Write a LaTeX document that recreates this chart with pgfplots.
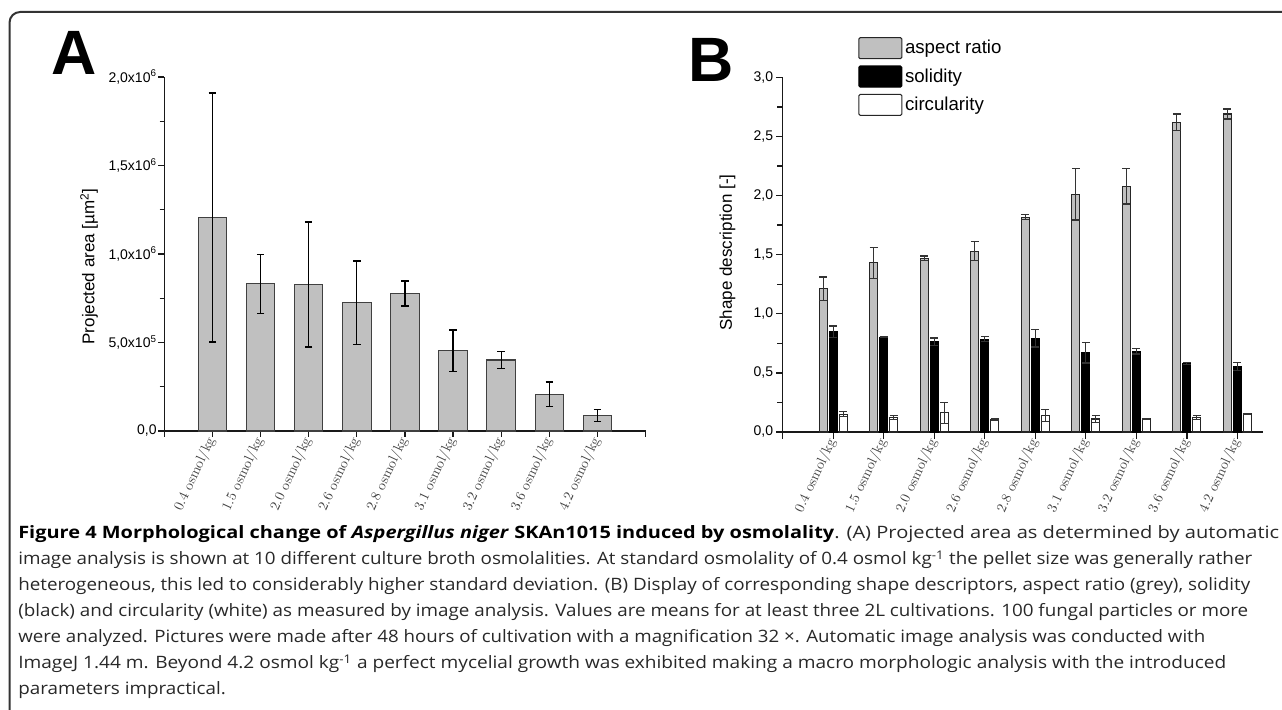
\documentclass[border=0pt]{standalone}
\usepackage{fontspec}
\usepackage{graphicx}
\usepackage{pgfplots}
\pgfplotsset{compat=1.18}
\usepackage{pgfplotstable}
\newfontfamily\arialfont{Liberation Sans}
\newfontfamily\capfont{Open Sans}
\definecolor{barg}{RGB}{192,192,192}
\definecolor{axc}{RGB}{25,25,25}
\definecolor{capc}{RGB}{40,40,40}
\newcommand\capsize{\capfont\fontsize{12.8}{14}\selectfont}
\newlength\capw
% measure text #2 and store factor to reach width #3 (px) in macro #1
\newcommand\capfactor[3]{%
  \settowidth\capw{\capsize #2}%
  \pgfmathsetmacro#1{(#3)*0.75/\capw}%
}
\newcommand\LaBold{\textbf{\color{black}Figure 4 Morphological change of \textit{Aspergillus niger} SKAn1015 induced by osmolality}}
\newcommand\LaReg{. (A) Projected area as determined by automatic}
\newcommand\Lb{image analysis is shown at 10 different culture broth osmolalities. At standard osmolality of 0.4 osmol kg\textsuperscript{-1} the pellet size was generally rather}
\newcommand\Lc{heterogeneous, this led to considerably higher standard deviation. (B) Display of corresponding shape descriptors, aspect ratio (grey), solidity}
\newcommand\Ld{(black) and circularity (white) as measured by image analysis. Values are means for at least three 2L cultivations. 100 fungal particles or more}
\newcommand\Le{were analyzed. Pictures were made after 48 hours of cultivation with a magnification 32 ×. Automatic image analysis was conducted with}
\newcommand\Lf{ImageJ 1.44 m. Beyond 4.2 osmol kg\textsuperscript{-1} a perfect mycelial growth was exhibited making a macro morphologic analysis with the introduced}
\newcommand\Lg{parameters impractical.}

\pgfplotstableread{
x y e
1 1206000 703000
2 832000 167000
3 828000 353000
4 724000 237000
5 777000 70000
6 453000 118000
7 401000 48000
8 207000 70000
9 87000 34000
}\tableA

\pgfplotstableread{
x ar are so soe ci cie
1 1.211 0.100 0.847 0.050 0.150 0.020
2 1.431 0.130 0.802 0.005 0.123 0.017
3 1.469 0.020 0.765 0.030 0.161 0.088
4 1.530 0.080 0.785 0.020 0.105 0.005
5 1.817 0.020 0.793 0.074 0.141 0.051
6 2.011 0.218 0.670 0.087 0.110 0.031
7 2.078 0.150 0.682 0.022 0.112 0.005
8 2.619 0.070 0.580 0.007 0.123 0.018
9 2.690 0.042 0.557 0.034 0.154 0.005
}\tableB

\begin{document}
\capfactor\sxAb{\LaBold}{816}%
\capfactor\sxAr{\LaReg}{445}%
\capfactor\sxB{\Lb}{1234}%
\capfactor\sxC{\Lc}{1232}%
\capfactor\sxD{\Ld}{1230}%
\capfactor\sxE{\Le}{1187}%
\capfactor\sxF{\Lf}{1208}%
\begin{tikzpicture}[x=0.75pt,y=0.75pt]
\useasboundingbox (0,0) rectangle (1282,710);
\clip (0,0) rectangle (1282,710);
\draw[line width=1.5pt, color=black!80, rounded corners=8pt] (9.5,-30) rectangle (1320,698);

\node[anchor=base west, inner sep=0pt, font=\arialfont\bfseries\fontsize{47}{47}\selectfont] at (51,635) {A};
\node[anchor=base west, inner sep=0pt, font=\arialfont\bfseries\fontsize{47}{47}\selectfont] at (688.5,628) {B};

% Panel A
\begin{axis}[
  at={(123.2pt,209.25pt)}, anchor=south west,
  scale only axis, width=361pt, height=265.5pt,
  xmin=0, xmax=10, ymin=0, ymax=2000000,
  axis x line*=bottom, axis y line*=left,
  axis line style={line width=1pt, color=axc},
  tick align=outside, major tick length=4.5pt, minor tick length=3.5pt,
  every tick/.style={line width=1pt, color=axc},
  xtick={0,...,10},
  xticklabels={,0.4 osmol/kg,1.5 osmol/kg,2.0 osmol/kg,2.6 osmol/kg,2.8 osmol/kg,3.1 osmol/kg,3.2 osmol/kg,3.6 osmol/kg,4.2 osmol/kg,},
  xticklabel style={rotate=65, anchor=east, font=\fontsize{10.5}{11}\selectfont, color=black!75, inner sep=1pt},
  scaled y ticks=false,
  ytick={0,500000,1000000,1500000,2000000},
  yticklabels={{0,0},{5,0x10\textsuperscript{5}},{1,0x10\textsuperscript{6}},{1,5x10\textsuperscript{6}},{2,0x10\textsuperscript{6}}},
  minor ytick={250000,750000,1250000,1750000},
  yticklabel style={font=\arialfont\fontsize{10.5}{12}\selectfont, inner sep=1pt},
  ylabel={Projected area [µm\textsuperscript{2}]},
  ylabel style={font=\arialfont\fontsize{12.75}{14}\selectfont, at={(axis description cs:-0.156,0.465)}, anchor=center},
  ybar, bar width=21.4pt,
  clip=false,
]
\addplot[ybar, fill=barg, draw=black!75, line width=0.8pt,
  error bars/.cd, y dir=both, y explicit,
  error bar style={line width=1pt, color=black},
  error mark options={rotate=90, mark size=2.8pt, line width=1pt, color=black}]
  table[x=x, y=y, y error=e] {\tableA};
\end{axis}

% Panel B
\begin{axis}[
  at={(587pt,208.5pt)}, anchor=south west,
  scale only axis, width=360pt, height=266pt,
  xmin=0, xmax=9.5, ymin=0, ymax=3,
  axis x line*=bottom, axis y line*=left,
  axis line style={line width=1pt, color=axc},
  tick align=outside, major tick length=5pt, minor tick length=4pt,
  every tick/.style={line width=1pt, color=axc},
  xtick={0,...,9},
  xticklabels={,0.4 osmol/kg,1.5 osmol/kg,2.0 osmol/kg,2.6 osmol/kg,2.8 osmol/kg,3.1 osmol/kg,3.2 osmol/kg,3.6 osmol/kg,4.2 osmol/kg},
  xticklabel style={rotate=65, anchor=east, font=\fontsize{10.5}{11}\selectfont, color=black!75, inner sep=1pt},
  ytick={0,0.5,1,1.5,2,2.5,3},
  yticklabels={{0,0},{0,5},{1,0},{1,5},{2,0},{2,5},{3,0}},
  minor ytick={0.25,0.75,1.25,1.75,2.25,2.75},
  yticklabel style={font=\arialfont\fontsize{10.5}{12}\selectfont, inner sep=2pt},
  ylabel={Shape description [-]},
  ylabel style={font=\arialfont\fontsize{12.75}{14}\selectfont, at={(axis description cs:-0.115,0.506)}, anchor=center},
  ybar=1.5pt, bar width=6pt,
  clip=false,
  legend style={at={(axis description cs:0.157,1.114)}, anchor=north west, draw=none, fill=none,
    inner sep=0pt, row sep=4.7pt, font=\arialfont\fontsize{14}{16}\selectfont},
  legend cell align=left,
  legend image code/.code={\draw[#1, line width=0.8pt, rounded corners=1pt] (0pt,-7.875pt) rectangle (32.25pt,7.875pt);},
]
\addplot[fill=barg, draw=black!85, line width=0.8pt,
  error bars/.cd, y dir=both, y explicit,
  error bar style={line width=0.9pt, color=black!80},
  error mark options={rotate=90, mark size=3pt, line width=0.9pt, color=black!80}]
  table[x=x, y=ar, y error=are] {\tableB};
\addlegendentry{aspect ratio}
\addplot[fill=black, draw=black, line width=0.8pt,
  error bars/.cd, y dir=both, y explicit,
  error bar style={line width=0.9pt, color=black!80},
  error mark options={rotate=90, mark size=3pt, line width=0.9pt, color=black!80}]
  table[x=x, y=so, y error=soe] {\tableB};
\addlegendentry{solidity}
\addplot[fill=white, draw=black!85, line width=0.8pt,
  error bars/.cd, y dir=both, y explicit,
  error bar style={line width=0.9pt, color=black!80},
  error mark options={rotate=90, mark size=3pt, line width=0.9pt, color=black!80}]
  table[x=x, y=ci, y error=cie] {\tableB};
\addlegendentry{circularity}
\end{axis}

% Caption
\begin{scope}[every node/.style={anchor=base west, inner sep=0pt, font=\capsize, text=capc}]
\node at (18,171) {\scalebox{\sxAb}[1]{\LaBold}};
\node at (834,171) {\scalebox{\sxAr}[1]{\LaReg}};
\node at (18,145) {\scalebox{\sxB}[1]{\Lb}};
\node at (18,119) {\scalebox{\sxC}[1]{\Lc}};
\node at (18,93) {\scalebox{\sxD}[1]{\Ld}};
\node at (18,67) {\scalebox{\sxE}[1]{\Le}};
\node at (18,41) {\scalebox{\sxF}[1]{\Lf}};
\node at (18,15) {\scalebox{\sxB}[1]{\Lg}};
\end{scope}
\end{tikzpicture}
\end{document}
